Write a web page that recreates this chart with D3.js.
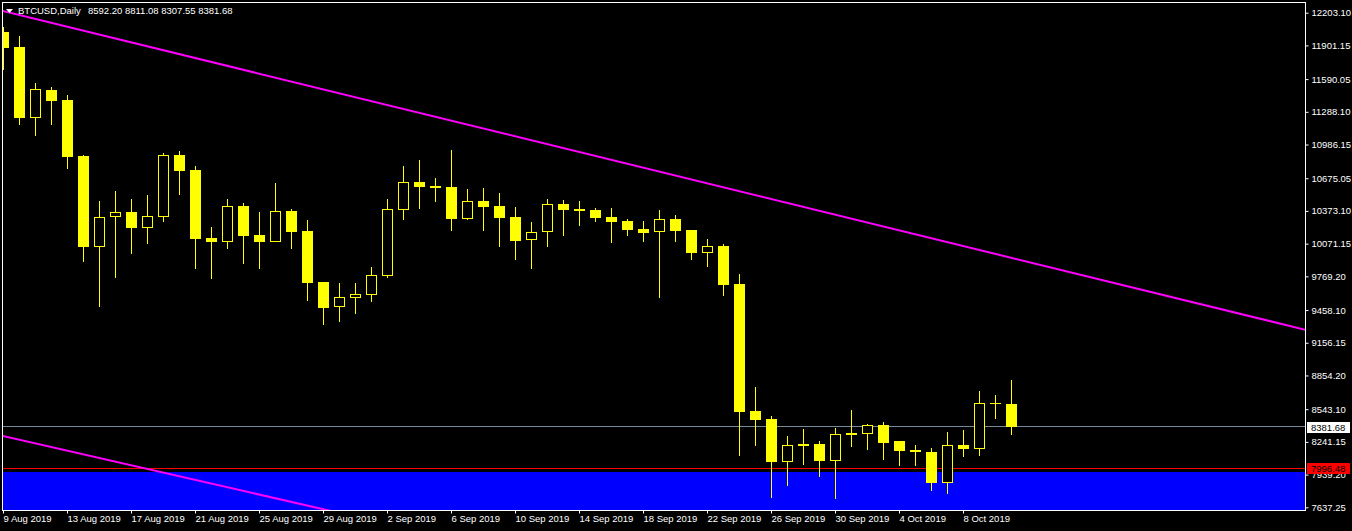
<!DOCTYPE html>
<html><head><meta charset="utf-8">
<script src="https://cdn.jsdelivr.net/npm/d3@7"></script>
<style>
html,body{margin:0;padding:0;background:#000;overflow:hidden}
text{font-family:"Liberation Sans",Arial,sans-serif;font-size:9.5px}
</style></head>
<body><svg id="c" width="1352" height="531"></svg>
<script>
// ---------- data ----------
const dates = [
"2019-08-09","2019-08-10","2019-08-11","2019-08-12","2019-08-13","2019-08-14","2019-08-15","2019-08-16",
"2019-08-17","2019-08-18","2019-08-19","2019-08-20","2019-08-21","2019-08-22","2019-08-23","2019-08-24",
"2019-08-25","2019-08-26","2019-08-27","2019-08-28","2019-08-29","2019-08-30","2019-08-31","2019-09-01",
"2019-09-02","2019-09-03","2019-09-04","2019-09-05","2019-09-06","2019-09-07","2019-09-08","2019-09-09",
"2019-09-10","2019-09-11","2019-09-12","2019-09-13","2019-09-14","2019-09-15","2019-09-16","2019-09-17",
"2019-09-18","2019-09-19","2019-09-20","2019-09-21","2019-09-22","2019-09-23","2019-09-24","2019-09-25",
"2019-09-26","2019-09-27","2019-09-28","2019-09-29","2019-09-30","2019-10-01","2019-10-02","2019-10-03",
"2019-10-04","2019-10-05","2019-10-06","2019-10-07","2019-10-08","2019-10-09","2019-10-10","2019-10-11"];
const open  = [12028,11886,11234,11490,11397,10880,10043,10314,10361,10218,10320,10887,10751,10121,10090,10416,
               10148,10090,10370,10185,9714,9489,9572,9600,9775,10385,10638,10603,10594,10302,10465,10419,
               10317,10102,10176,10434,10391,10382,10317,10280,10207,10176,10299,10197,9988,10050,9699,8526,
               8452,8058,8222,8222,8068,8323,8317,8397,8250,8166,8151,7865,8213,8178,8603,8592.20];
const high  = [12074,11988,11554,11517,11443,10885,10465,10554,10483,10520,10908,10927,10788,10225,10483,10446,
               10363,10628,10392,10290,9716,9705,9705,9853,10481,10788,10843,10677,10936,10573,10585,10539,
               10410,10271,10483,10474,10465,10400,10400,10299,10280,10382,10336,10199,10115,10068,9791,8748,
               8480,8296,8360,8250,8369,8535,8406,8425,8252,8213,8182,8332,8351,8711,8674,8811.08];
const low   = [11674,11169,11068,11169,10763,9905,9489,9757,9978,10071,10274,10523,9840,9747,10025,9886,
               9840,10088,10025,9545,9323,9351,9425,9533,9757,10290,10391,10458,10191,10290,10191,10043,
               9923,9840,10043,10145,10237,10274,10080,10145,10090,9572,10090,9923,9858,9590,8114,8206,
               7726,7837,8031,7920,7717,8197,8166,8077,8021,8021,7791,7763,8105,8114,8455,8307.55];
const close = [11880,11234,11496,11391,10874,10043,10314,10361,10218,10324,10887,10745,10117,10090,10416,10145,
               10090,10370,10182,9711,9480,9576,9603,9779,10388,10638,10597,10588,10302,10462,10412,10311,
               10099,10176,10434,10385,10376,10311,10274,10200,10172,10299,10191,9988,10047,9690,8520,8446,
               8058,8210,8203,8068,8314,8308,8397,8234,8160,8151,7865,8210,8178,8600,8591,8381.68];
const priceTicks = [12203.10,11901.15,11590.05,11288.10,10986.15,10675.05,10373.10,10071.15,
                    9769.20,9458.10,9156.15,8854.20,8543.10,8241.15,7939.20,7637.25];
const dateTicks = ["2019-08-09","2019-08-13","2019-08-17","2019-08-21","2019-08-25","2019-08-29",
                   "2019-09-02","2019-09-06","2019-09-10","2019-09-14","2019-09-18","2019-09-22",
                   "2019-09-26","2019-09-30","2019-10-04","2019-10-08"];
const symbolTitle = "BTCUSD,Daily";
const bidPrice = 8381.68;
const levelPrice = 7996.48;
const zoneTopPrice = 7966;
const trend1 = [["2019-08-09",12218],["2019-10-11",9940]];
const trend2 = [["2019-08-09",8295],["2019-08-29",7619]];

// ---------- setup ----------
const parse = d3.utcParse("%Y-%m-%d");
const svg = d3.select("#c");
const L = 2.5, R = 1305.5, T = 2.5, B = 510.5;

svg.append("rect").attr("width",1352).attr("height",531).attr("fill","#000");

const x = d3.scaleUtc().domain([parse("2019-08-09"), parse("2019-08-10")]).range([3.5, 19.5]);
const y = d3.scaleLinear().domain([7637.25, 12203.10]).range([507.3, 12.7]);

const defs = svg.append("defs");
defs.append("clipPath").attr("id","plot").append("rect")
  .attr("x",3).attr("y",3).attr("width",R-3).attr("height",B-3.5);

const plot = svg.append("g").attr("clip-path","url(#plot)");

// blue zone (background object)
plot.append("rect")
  .attr("x", 0).attr("width", 1310)
  .attr("y", Math.round(y(zoneTopPrice)))
  .attr("height", 600)
  .attr("fill", "#0000ff");

// red horizontal level
plot.append("line")
  .attr("x1",0).attr("x2",1310)
  .attr("y1",Math.floor(y(levelPrice))+0.5).attr("y2",Math.floor(y(levelPrice))+0.5)
  .attr("stroke","#ff0000").attr("stroke-width",1);

// bid line
plot.append("line")
  .attr("x1",0).attr("x2",1310)
  .attr("y1",Math.floor(y(bidPrice))+0.5).attr("y2",Math.floor(y(bidPrice))+0.5)
  .attr("stroke","#778899").attr("stroke-width",1);

// candles
const bars = dates.map((d,i)=>({date:parse(d),o:open[i],h:high[i],l:low[i],c:close[i]}));
const cg = plot.append("g");
bars.forEach(d=>{
  const cx = Math.floor(x(d.date))+0.5;
  const yh = Math.round(y(d.h)), yl = Math.round(y(d.l));
  const yo = Math.round(y(d.o)), yc = Math.round(y(d.c));
  const top = Math.min(yo,yc), bot = Math.max(yo,yc);
  cg.append("line").attr("x1",cx).attr("x2",cx).attr("y1",yh).attr("y2",yl)
    .attr("stroke","#ffff00").attr("stroke-width",1);
  if (d.c < d.o) {
    cg.append("rect").attr("x",cx-5.5).attr("y",top).attr("width",11)
      .attr("height",Math.max(1,bot-top)).attr("fill","#ffff00");
  } else {
    const h = Math.max(0, bot-top-1);
    cg.append("rect").attr("x",cx-5).attr("y",top+0.5).attr("width",10)
      .attr("height",h).attr("fill","#000").attr("stroke","#ffff00").attr("stroke-width",1);
  }
});

// trend lines (rays extended across the chart)
function ray(tl){
  const x1 = x(parse(tl[0][0])), y1 = y(tl[0][1]);
  const x2 = x(parse(tl[1][0])), y2 = y(tl[1][1]);
  const k = (y2-y1)/(x2-x1);
  const xa = -20, xb = 1320;
  plot.append("line")
    .attr("x1",xa).attr("y1",y1+k*(xa-x1))
    .attr("x2",xb).attr("y2",y1+k*(xb-x1))
    .attr("stroke","#ff00ff").attr("stroke-width",2);
}
ray(trend1);
ray(trend2);

// frame
svg.append("rect").attr("x",L).attr("y",T).attr("width",R-L).attr("height",B-T)
  .attr("fill","none").attr("stroke","#fff").attr("stroke-width",1);

// y axis
const yAxis = d3.axisRight(y).tickValues(priceTicks).tickFormat(d3.format(".2f")).tickSize(3).tickPadding(3);
const ya = svg.append("g").attr("transform",`translate(${R},0)`).call(yAxis);
ya.select(".domain").remove();
ya.selectAll("line").attr("stroke","#fff");
ya.selectAll("text").attr("fill","#fff").style("font-family","Liberation Sans").style("font-size","9.5px");

// x axis
const xAxis = d3.axisBottom(x).tickValues(dateTicks.map(parse))
  .tickFormat(d3.utcFormat("%-d %b %Y")).tickSize(3).tickPadding(2);
const xa = svg.append("g").attr("transform",`translate(-0.5,${B})`).call(xAxis);
xa.select(".domain").remove();
xa.selectAll("line").attr("stroke","#fff");
xa.selectAll("text").attr("fill","#fff").attr("text-anchor","start").attr("dx","0")
  .style("font-family","Liberation Sans").style("font-size","9.5px");

// price labels on axis
function priceLabel(p, bg){
  const yy = Math.round(y(p));
  svg.append("rect").attr("x",1307).attr("y",yy-5).attr("width",43).attr("height",11).attr("fill",bg);
  svg.append("text").attr("x",1311).attr("y",yy+3.5).attr("fill","#000")
    .text(d3.format(".2f")(p));
}
priceLabel(bidPrice,"#fff");
priceLabel(levelPrice,"#ff0000");

// header
svg.append("path").attr("d","M6,9 L13,9 L9.5,13 Z").attr("fill","#fff");
svg.append("text").attr("x",18).attr("y",14).attr("fill","#fff").text(symbolTitle);
svg.append("text").attr("x",88).attr("y",14).attr("fill","#fff")
  .text([open[63],high[63],low[63],close[63]].map(d3.format(".2f")).join(" "));
</script>
</body></html>
